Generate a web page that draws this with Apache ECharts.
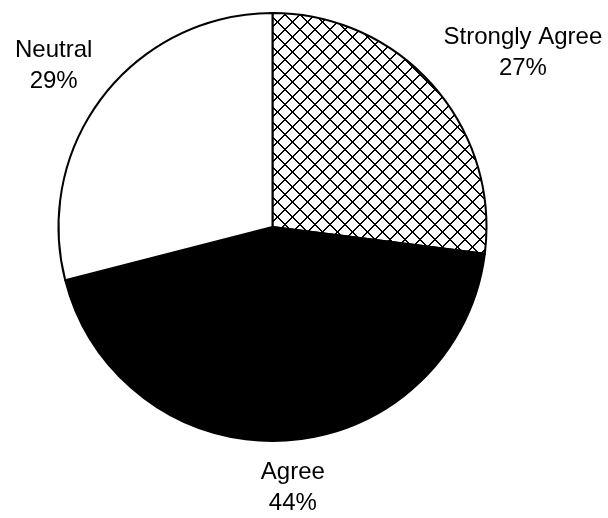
<!DOCTYPE html>
<html>
<head>
<meta charset="utf-8">
<script src="https://cdn.jsdelivr.net/npm/echarts@6/dist/echarts.min.js"></script>
<style>
  html, body { margin: 0; padding: 0; background: #fff; }
  #chart { width: 608px; height: 518px; }
</style>
</head>
<body>
<div id="chart"></div>
<script>
let categories = ['Strongly Agree', 'Agree', 'Neutral'];
let values = [27, 44, 29];

// diamond crosshatch tile for the first slice (2px diagonals)
function hatch(n) {
    let c = document.createElement('canvas');
    c.width = n;
    c.height = n;
    let ctx = c.getContext('2d');
    ctx.fillStyle = '#fff';
    ctx.fillRect(0, 0, n, n);
    ctx.fillStyle = '#000';
    for (let i = 0; i < n; i++) {
        ctx.fillRect(i, i, 1, 1);
        ctx.fillRect((i + 1) % n, i, 1, 1);
        ctx.fillRect(n - 1 - i, i, 1, 1);
        ctx.fillRect((2 * n - 2 - i) % n, i, 1, 1);
    }
    return c;
}

let fills = [
    { image: hatch(15), repeat: 'repeat' },
    '#000',
    '#fff'
];

let myChart = echarts.init(document.getElementById('chart'));
myChart.setOption({
    backgroundColor: '#fff',
    animation: false,
    series: [{
        type: 'pie',
        center: [272.5, 227],
        radius: 214,
        startAngle: 90,
        clockwise: true,
        avoidLabelOverlap: false,
        emphasis: { disabled: true },
        itemStyle: {
            borderColor: '#000',
            borderWidth: 2
        },
        label: {
            show: true,
            position: 'outside',
            formatter: '{b}\n{d}%',
            fontFamily: 'Liberation Sans',
            fontSize: 24,
            lineHeight: 31,
            color: '#000'
        },
        labelLine: {
            show: true,
            length: 10,
            length2: 0,
            lineStyle: { width: 0, opacity: 0 }
        },
        // place each label box just outside the slice, centred like the original
        labelLayout: function (params) {
            let pts = params.labelLinePoints;
            if (!pts) return {};
            let dx = pts[1][0] - pts[0][0];
            let dy = pts[1][1] - pts[0][1];
            let len = Math.sqrt(dx * dx + dy * dy) || 1;
            let ux = dx / len, uy = dy / len;
            let w = params.labelRect.width, h = params.labelRect.height;
            let clamp = function (v) { return Math.max(-1, Math.min(1, v)); };
            return {
                x: pts[0][0] + clamp(ux * 3) * w / 2 + ux * 14,
                y: pts[0][1] + clamp(uy * 1.05) * h / 2 + uy * 16,
                align: 'center',
                verticalAlign: 'middle'
            };
        },
        data: categories.map(function (name, i) {
            return { name: name, value: values[i], itemStyle: { color: fills[i] } };
        })
    }]
});
</script>
</body>
</html>
